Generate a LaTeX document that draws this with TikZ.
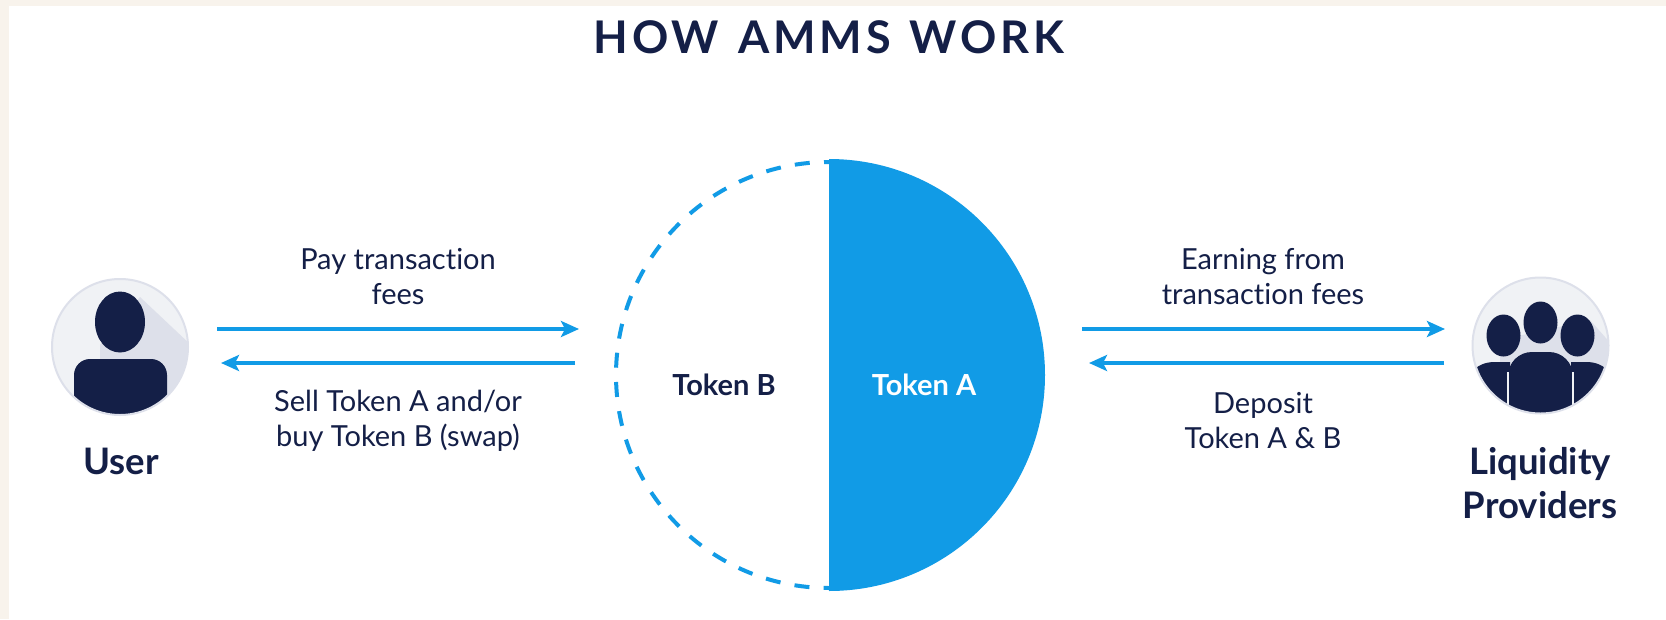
\documentclass[tikz,border=0pt]{standalone}
\usepackage{fontspec}
\setmainfont[Ligatures=NoCommon]{Lato}
\newfontfamily\titlefont[LetterSpace=8.5,WordSpace=1.3]{Lato}
\usetikzlibrary{arrows.meta}
\definecolor{navy}{HTML}{141F47}
\definecolor{skyblue}{HTML}{119BE6}
\definecolor{cream}{HTML}{F8F3EC}
\definecolor{disc}{HTML}{F0F2F5}
\definecolor{discedge}{HTML}{DDE0EA}
\definecolor{discshade}{HTML}{DDE0EA}
\tikzset{
    flow/.style={skyblue,line width=3.5pt,-{Stealth[length=18pt,width=16pt,inset=4pt]},shorten >=-1pt},
    lbl/.style={navy,font=\fontsize{29}{35}\selectfont,align=center},
    who/.style={navy,font=\fontsize{36.5}{44}\selectfont\bfseries,align=center},
    tok/.style={font=\fontsize{29}{34}\selectfont\bfseries}
}
\begin{document}
\begin{tikzpicture}[x=1pt,y=-1pt]
    \useasboundingbox (0,0) rectangle (1666,619);
    \fill[cream](0,0) rectangle (1666,619);
    \fill[white](9,6) rectangle (1666,619);
    \node[navy,font=\fontsize{45}{50}\selectfont\titlefont\bfseries] (title) at (829,37) {HOW AMMS WORK};
    % pool
    \fill[skyblue](829,159) arc(-90:90:216) -- cycle;
    \draw[skyblue,line width=4pt,dash pattern=on 15pt off 14.3pt,dash phase=10pt](829,162) arc(-90:-270:213);
    \node[tok,navy] (tokenb) at (724,385) {Token B};
    \node[tok,white] (tokena) at (924,385) {Token A};
    % user icon
    \fill[disc](120,347) circle(68);
    \begin{scope}
        \clip(120,347) circle(68);
        \fill[discshade](140,297) -- (192,346) -- (192,420) -- (100,420) -- (100,345) -- cycle;
        \fill[navy](120,322) ellipse(25 and 30.5);
        \fill[navy](74,420) -- (74,375) arc(180:270:16) -- (151,359) arc(-90:0:16) -- (167,420) -- cycle;
    \end{scope}
    \draw[discedge,line width=2pt](120,347) circle(68);
    % providers icon
    \fill[disc](1540.5,345.5) circle(68);
    \begin{scope}
        \clip(1540.5,345.5) circle(68);
        \fill[discshade](1590,320) -- (1612,345) -- (1612,420) -- (1500,420) -- (1500,340) -- cycle;
        \foreach \x/\y in {1503.5/335.5,1540.5/322.5,1577.5/335.5}{
            \fill[navy](\x,\y) ellipse(17 and 21);
        }
        \fill[navy](1470,420) -- (1470,373) .. controls (1478,365) and (1485,362) .. (1495,362) -- (1510,362) -- (1510,420) -- cycle;
        \fill[navy](1611,420) -- (1611,373) .. controls (1603,365) and (1596,362) .. (1586,362) -- (1571,362) -- (1571,420) -- cycle;
        \fill[navy](1508,425) -- (1508,376) arc(180:270:24) -- (1549,352) arc(-90:0:24) -- (1573,425) -- cycle;
        \draw[disc,line width=1.5pt](1508,425) -- (1508,372);
        \draw[disc,line width=1.5pt](1573,425) -- (1573,372);
    \end{scope}
    \draw[discedge,line width=2pt](1540.5,345.5) circle(68);
    % arrow ends
    \foreach \n/\x/\y in {
        paya/217/329,
        payb/578/329,
        sella/575/363,
        sellb/222/363,
        earna/1082/329,
        earnb/1444/329,
        depa/1444/363,
        depb/1090/363}{
            \coordinate (\n) at (\x,\y);
    }
    \draw[flow](paya) -- (payb);
    \draw[flow](sella) -- (sellb);
    \draw[flow](earna) -- (earnb);
    \draw[flow](depa) -- (depb);
    \node[lbl] (paylbl) at (398,276.5) {Pay transaction\\fees};
    \node[lbl] (selllbl) at (398,420.5) {Sell Token A and/or\\buy Token B (swap)};
    \node[lbl] (earnlbl) at (1263,276.5) {Earning from\\transaction fees};
    \node[lbl] (deplbl) at (1263,420.5) {Deposit\\Token A \& B};
    \node[who] (user) at (121,461) {User};
    \node[who] (lp) at (1540,483) {Liquidity\\Providers};
\end{tikzpicture}
\end{document}
